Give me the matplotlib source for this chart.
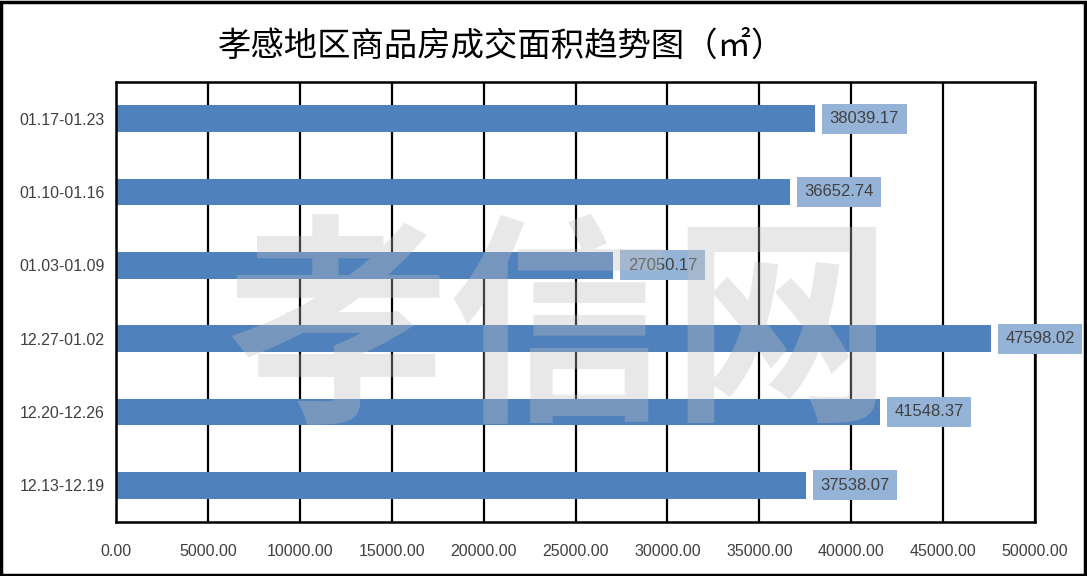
import matplotlib
matplotlib.use("Agg")
import matplotlib.pyplot as plt
from matplotlib.patches import Rectangle

categories = ["12.13-12.19", "12.20-12.26", "12.27-01.02", "01.03-01.09", "01.10-01.16", "01.17-01.23"]
values = [37538.07, 41548.37, 47598.02, 27050.17, 36652.74, 38039.17]
xticks = [0, 5000, 10000, 15000, 20000, 25000, 30000, 35000, 40000, 45000, 50000]
title = "孝感地区商品房成交面积趋势图（㎡）"
watermark = "孝信网"

plt.rcParams['font.family'] = ['Liberation Sans', 'Noto Sans CJK SC', 'DejaVu Sans']

fig = plt.figure(figsize=(10.87, 5.76), dpi=100)
ax = fig.add_axes([116/1087, 54/576, 919/1087, 440/576])

bar_color = "#4F81BD"
ax.barh(range(len(categories)), values, height=0.36, color=bar_color, zorder=2)
ax.set_xlim(0, 50000)
ax.set_ylim(-0.5, len(categories) - 0.5)
ax.set_yticks(range(len(categories)))
ax.set_yticklabels(categories, fontsize=11.5, color="#404040")
ax.set_xticks(xticks)
ax.set_xticklabels([f"{v:.2f}" for v in xticks], fontsize=11.5, color="#404040")
ax.tick_params(axis='both', length=0)
ax.tick_params(axis='x', pad=16)
ax.tick_params(axis='y', pad=8)
ax.grid(axis='x', color='black', linewidth=1.6, zorder=1)
ax.set_axisbelow(True)
for side in ['top', 'bottom', 'left', 'right']:
    ax.spines[side].set_color('black')
    ax.spines[side].set_linewidth(1.8)

for i, v in enumerate(values):
    ax.annotate(f"{v:.2f}", xy=(v, i), xytext=(10.5, 0), textcoords='offset points',
                ha='left', va='center', fontsize=12, color="#404040", zorder=4,
                bbox=dict(boxstyle='square,pad=0.45', facecolor='#95B3D7', edgecolor='none'))

fig.text(502/1087, 1 - 46/576, title, ha='center', va='center', fontsize=24,
         family=['Noto Sans CJK SC', 'DejaVu Sans'], color='black')

fig.text(560/1087, 1 - 338/576, watermark, ha='center', va='center', fontsize=160,
         family=['Noto Sans CJK SC', 'DejaVu Sans'], fontweight='bold',
         color='#BFBFBF', alpha=0.35, zorder=10)

fig.patches.append(Rectangle((0.001, 0.002), 0.997, 0.995, transform=fig.transFigure,
                             fill=False, edgecolor='black', linewidth=2.5))

fig.savefig("out.png", dpi=100)
